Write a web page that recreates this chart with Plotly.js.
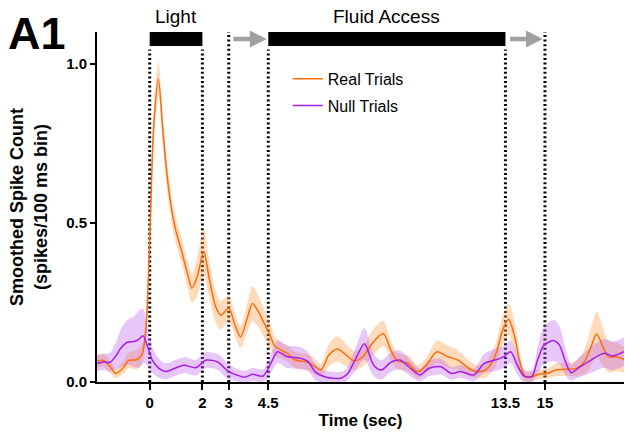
<!DOCTYPE html>
<html>
<head>
<meta charset="utf-8">
<script src="https://cdn.plot.ly/plotly-3.0.1.min.js"></script>
<style>html,body{margin:0;padding:0;background:#fff;}#chart{width:625px;height:434px;}</style>
</head>
<body>
<div id="chart"></div>
<script>
// ---- Data ----
const realTime = [-2.0,-1.75,-1.5,-1.3,-1.0,-0.8,-0.5,-0.3,-0.15,0.0,0.15,0.33,0.5,0.7,0.95,1.2,1.45,1.6,1.8,2.05,2.25,2.5,2.7,3.0,3.25,3.45,3.7,3.9,4.1,4.3,4.55,4.75,5.0,5.25,5.5,5.9,6.2,6.5,6.8,7.13,7.45,7.76,8.1,8.45,8.87,9.15,9.4,9.8,10.17,10.5,10.9,11.3,11.7,12.1,12.4,12.75,13.1,13.4,13.62,13.85,14.03,14.25,14.5,14.8,15.1,15.4,15.8,16.2,16.5,16.75,16.96,17.2,17.4,17.7,18.0];
const realMean = [0.065,0.068,0.048,0.027,0.045,0.068,0.07,0.085,0.16,0.45,0.8,0.952,0.79,0.62,0.49,0.415,0.335,0.295,0.33,0.41,0.33,0.237,0.21,0.232,0.176,0.142,0.2,0.247,0.225,0.192,0.15,0.112,0.1,0.088,0.07,0.064,0.053,0.038,0.085,0.104,0.085,0.066,0.08,0.122,0.152,0.1,0.066,0.059,0.032,0.053,0.095,0.08,0.069,0.044,0.033,0.038,0.08,0.164,0.197,0.143,0.069,0.017,0.017,0.025,0.027,0.038,0.04,0.043,0.064,0.111,0.151,0.111,0.08,0.079,0.071];
const realSem = [0.02,0.02,0.02,0.015,0.02,0.025,0.03,0.03,0.03,0.04,0.05,0.055,0.05,0.045,0.04,0.04,0.04,0.045,0.06,0.075,0.06,0.05,0.045,0.04,0.035,0.035,0.045,0.055,0.05,0.045,0.04,0.03,0.025,0.025,0.025,0.025,0.025,0.02,0.035,0.04,0.035,0.03,0.03,0.04,0.04,0.03,0.025,0.025,0.02,0.025,0.035,0.035,0.03,0.025,0.02,0.025,0.035,0.045,0.05,0.045,0.03,0.015,0.015,0.015,0.015,0.02,0.02,0.025,0.04,0.06,0.07,0.06,0.05,0.045,0.04];

const nullTime = [-2.0,-1.75,-1.5,-1.3,-1.1,-0.85,-0.6,-0.4,-0.25,-0.08,0.1,0.35,0.6,0.95,1.3,1.75,2.15,2.6,2.95,3.3,3.6,3.9,4.3,4.6,4.85,5.2,5.7,6.0,6.3,6.7,7.25,7.5,7.8,8.15,8.5,8.8,9.15,9.5,9.9,10.25,10.6,11.05,11.45,11.8,12.3,12.7,13.1,13.45,13.7,13.95,14.2,14.5,14.72,14.97,15.35,15.55,15.8,16.0,16.25,16.75,17.25,17.57,18.0];
const nullMean = [0.059,0.063,0.062,0.08,0.106,0.125,0.127,0.135,0.145,0.111,0.069,0.043,0.033,0.043,0.053,0.045,0.069,0.062,0.035,0.022,0.015,0.024,0.019,0.059,0.095,0.08,0.075,0.065,0.03,0.015,0.012,0.025,0.07,0.12,0.053,0.038,0.062,0.069,0.043,0.022,0.043,0.048,0.027,0.033,0.022,0.059,0.069,0.08,0.095,0.053,0.019,0.017,0.069,0.116,0.13,0.116,0.059,0.029,0.043,0.069,0.09,0.082,0.095];
const nullSem = [0.025,0.025,0.03,0.04,0.06,0.07,0.08,0.09,0.085,0.06,0.04,0.03,0.025,0.025,0.025,0.025,0.025,0.025,0.025,0.02,0.02,0.02,0.02,0.03,0.035,0.035,0.035,0.03,0.025,0.02,0.02,0.02,0.035,0.05,0.035,0.03,0.03,0.03,0.025,0.02,0.025,0.025,0.02,0.02,0.02,0.03,0.035,0.035,0.035,0.03,0.02,0.02,0.04,0.06,0.065,0.06,0.04,0.025,0.03,0.04,0.045,0.045,0.045];

const xTickVals = [0, 2, 3, 4.5, 13.5, 15];
const xTickText = ["0", "2", "3", "4.5", "13.5", "15"];
const yTickVals = [0, 0.5, 1.0];
const yTickText = ["0.0", "0.5", "1.0"];
const seriesNames = ["Real Trials", "Null Trials"];
const epochs = [{label: "Light", start: 0, end: 2}, {label: "Fluid Access", start: 4.5, end: 13.5}];
const arrows = [{from: 3.12, to: 4.44}, {from: 13.62, to: 14.92}];
const markerTimes = [0, 2, 3, 4.5, 13.5, 15];

// ---- Styling ----
const FONT = "Liberation Sans, Arial, Helvetica, sans-serif";
const realLine = "#FF6A0A", realBand = "rgba(255,160,80,0.38)";
const nullLine = "#A51EE6", nullBand = "rgba(185,95,235,0.35)";

const add = (a, b, s) => a.map((v, i) => v + s * b[i]);

function band(x, mean, sem, fill, grp) {
  return [
    {x: x, y: add(mean, sem, 1), mode: "lines", line: {width: 0, shape: "spline", smoothing: 0.8}, hoverinfo: "skip", showlegend: false, legendgroup: grp},
    {x: x, y: add(mean, sem, -1), mode: "lines", line: {width: 0, shape: "spline", smoothing: 0.8}, fill: "tonexty", fillcolor: fill, hoverinfo: "skip", showlegend: false, legendgroup: grp}
  ];
}

const traces = [
  ...band(realTime, realMean, realSem, realBand, "real"),
  ...band(nullTime, nullMean, nullSem, nullBand, "null"),
  {x: realTime, y: realMean, mode: "lines", name: seriesNames[0], legendgroup: "real", line: {color: realLine, width: 1.5, shape: "spline", smoothing: 0.8}},
  {x: nullTime, y: nullMean, mode: "lines", name: seriesNames[1], legendgroup: "null", line: {color: nullLine, width: 1.5, shape: "spline", smoothing: 0.8}}
];

const shapes = [];
const annotations = [];
const barBottom = 0.96, barTop = 1.0;
epochs.forEach(e => {
  shapes.push({type: "rect", xref: "x", yref: "paper", x0: e.start, x1: e.end, y0: barBottom, y1: barTop, fillcolor: "#000", line: {width: 0}});
  annotations.push({xref: "x", yref: "paper", x: (e.start + e.end) / 2, y: 1.045, text: e.label, showarrow: false, font: {family: FONT, size: 19, color: "#000"}, xanchor: "center", yanchor: "middle"});
});
const barEdges = new Set();
epochs.forEach(e => { barEdges.add(e.start); barEdges.add(e.end); });
markerTimes.forEach(t => {
  shapes.push({type: "line", xref: "x", yref: "paper", x0: t, x1: t, y0: 0, y1: barEdges.has(t) ? barBottom - 0.01 : barTop, layer: "below", line: {color: "#000", width: 3, dash: "2px,2.6px"}});
});
arrows.forEach(a => {
  annotations.push({xref: "x", yref: "paper", x: a.to, y: 0.98, axref: "x", ayref: "pixel", ax: a.from, ay: 0, text: "", showarrow: true, arrowhead: 2, arrowsize: 0.75, arrowwidth: 4.5, arrowcolor: "#A0A0A0"});
});
annotations.push({xref: "paper", yref: "paper", x: -0.114, y: 0.997, text: "<b>A1</b>", showarrow: false, font: {family: FONT, size: 45, color: "#000"}, xanchor: "center", yanchor: "middle"});

const layout = {
  width: 625, height: 434,
  margin: {l: 97, r: 1, t: 32, b: 52},
  paper_bgcolor: "#fff", plot_bgcolor: "#fff",
  showlegend: true,
  legend: {x: 0.362, y: 0.915, xanchor: "left", yanchor: "top", font: {family: FONT, size: 16, color: "#000"}, bgcolor: "rgba(0,0,0,0)", traceorder: "grouped", tracegroupgap: 3, itemwidth: 30},
  xaxis: {
    range: [-2, 18], showgrid: false, zeroline: false, showline: true, linecolor: "#000", linewidth: 2,
    ticks: "outside", ticklen: 6, tickwidth: 2, tickcolor: "#000",
    tickvals: xTickVals, ticktext: xTickText,
    tickfont: {family: FONT, size: 15, color: "#000", weight: "bold"},
    title: {text: "Time (sec)", font: {family: FONT, size: 17, color: "#000", weight: "bold"}, standoff: 4}
  },
  yaxis: {
    range: [0, 1.1], showgrid: false, zeroline: false, showline: true, linecolor: "#000", linewidth: 2,
    ticks: "outside", ticklen: 5, tickwidth: 2, tickcolor: "#000",
    tickvals: yTickVals, ticktext: yTickText,
    tickfont: {family: FONT, size: 15, color: "#000", weight: "bold"},
    title: {text: "Smoothed Spike Count<br>(spikes/100 ms bin)", font: {family: FONT, size: 18, color: "#000", weight: "bold"}, standoff: 14}
  },
  shapes: shapes,
  annotations: annotations
};

Plotly.newPlot("chart", traces, layout, {staticPlot: true, displayModeBar: false});
</script>
</body>
</html>
